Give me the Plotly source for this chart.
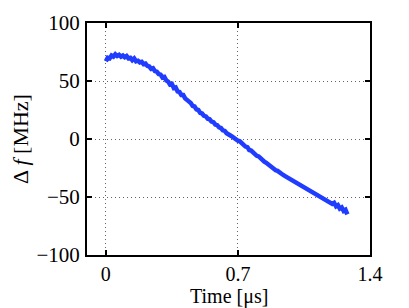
import plotly.graph_objects as go

time_us = [0.00, 0.01, 0.02, 0.03, 0.04, 0.05, 0.06, 0.07, 0.08, 0.09,
           0.10, 0.11, 0.12, 0.13, 0.14, 0.15, 0.16, 0.17, 0.18, 0.19,
           0.20, 0.21, 0.22, 0.23, 0.24, 0.25, 0.26, 0.27, 0.28, 0.29,
           0.30, 0.31, 0.32, 0.33, 0.34, 0.35, 0.36, 0.37, 0.38, 0.39,
           0.40, 0.41, 0.42, 0.43, 0.44, 0.45, 0.46, 0.47, 0.48, 0.49,
           0.50, 0.51, 0.52, 0.53, 0.54, 0.55, 0.56, 0.57, 0.58, 0.59,
           0.60, 0.61, 0.62, 0.63, 0.64, 0.65, 0.66, 0.67, 0.68, 0.69,
           0.70, 0.71, 0.72, 0.73, 0.74, 0.75, 0.76, 0.77, 0.78, 0.79,
           0.80, 0.81, 0.82, 0.83, 0.84, 0.85, 0.86, 0.87, 0.88, 0.89,
           0.90, 0.91, 0.92, 0.93, 0.94, 0.95, 0.96, 0.97, 0.98, 0.99,
           1.00, 1.01, 1.02, 1.03, 1.04, 1.05, 1.06, 1.07, 1.08, 1.09,
           1.10, 1.11, 1.12, 1.13, 1.14, 1.15, 1.16, 1.17, 1.18, 1.19,
           1.20, 1.21, 1.22, 1.23, 1.24, 1.25, 1.26, 1.27, 1.28]
delta_f_mhz = [67, 70, 69.5, 72, 71, 73, 71.5, 72.5, 71, 72,
               70.5, 71.5, 69.5, 70, 68, 69.5, 67, 67.5, 66, 66.5,
               64.5, 65, 63, 62.5, 60.5, 61, 58.5, 58, 56, 55.5,
               53, 53.5, 50.5, 49.5, 47, 47.5, 44, 44.5, 41, 40.5,
               38, 38, 35, 34, 32, 31, 28.5, 28, 25.5, 25,
               22.5, 22, 20, 19.5, 17.5, 17, 15, 14.5, 12.5, 12,
               10, 9.5, 7.5, 7, 5, 4.5, 3, 2, 0.5, 0,
               -1.5, -2, -4, -4.5, -6.5, -7, -9.5, -10, -12, -12.5,
               -14.5, -15, -17, -17.5, -19.5, -20.5, -22, -22.5, -24.5, -25.5,
               -27, -27.5, -29, -29.5, -31, -32, -33, -33.5, -35, -36,
               -37, -37.5, -39, -40, -41, -41.5, -43, -43.5, -44.5, -45.5,
               -46.5, -47, -48.5, -49.5, -50.5, -51, -52.5, -53, -54, -55,
               -56, -55, -58, -57, -60, -59, -62, -61, -65]

x_ticks = [0, 0.7, 1.4]
x_ticklabels = ["0", "0.7", "1.4"]
y_ticks = [-100, -50, 0, 50, 100]

fig = go.Figure()
fig.add_trace(go.Scatter(x=time_us, y=delta_f_mhz, mode="lines",
                         line=dict(color="#1f3cff", width=4.5)))

font = "Liberation Serif, Times New Roman, serif"
fig.update_layout(
    width=409, height=308,
    margin=dict(l=87, r=39, t=23, b=53),
    paper_bgcolor="white", plot_bgcolor="white",
    showlegend=False,
    font=dict(family=font, size=21, color="black"),
    annotations=[
        dict(text="Time [μs]", xref="paper", yref="paper", x=0.5, y=0,
             xanchor="center", yanchor="middle", yshift=-41,
             showarrow=False, font=dict(size=20)),
        dict(text="Δ <i>f</i> [MHz]", xref="paper", yref="paper", x=0, y=0.5,
             xanchor="center", yanchor="middle", xshift=-67, textangle=-90,
             showarrow=False, font=dict(size=22)),
    ],
)
grid_kw = dict(showgrid=True, gridcolor="#666666", griddash="1px,3px", gridwidth=1)
axis_kw = dict(showline=True, linecolor="black", linewidth=2, mirror="ticks",
               ticks="inside", ticklen=5, tickwidth=1.5, tickcolor="black",
               zeroline=False)
fig.update_xaxes(range=[-0.1, 1.4], tickvals=x_ticks, ticktext=x_ticklabels,
                 ticklabelstandoff=0, tickfont=dict(size=20), **axis_kw, **grid_kw)
fig.update_yaxes(range=[-100, 100], tickvals=y_ticks, ticklabelstandoff=1,
                 **axis_kw, **grid_kw)
fig.write_html("out.html", config={"displayModeBar": False},
               post_script="document.body.style.margin='0';")
